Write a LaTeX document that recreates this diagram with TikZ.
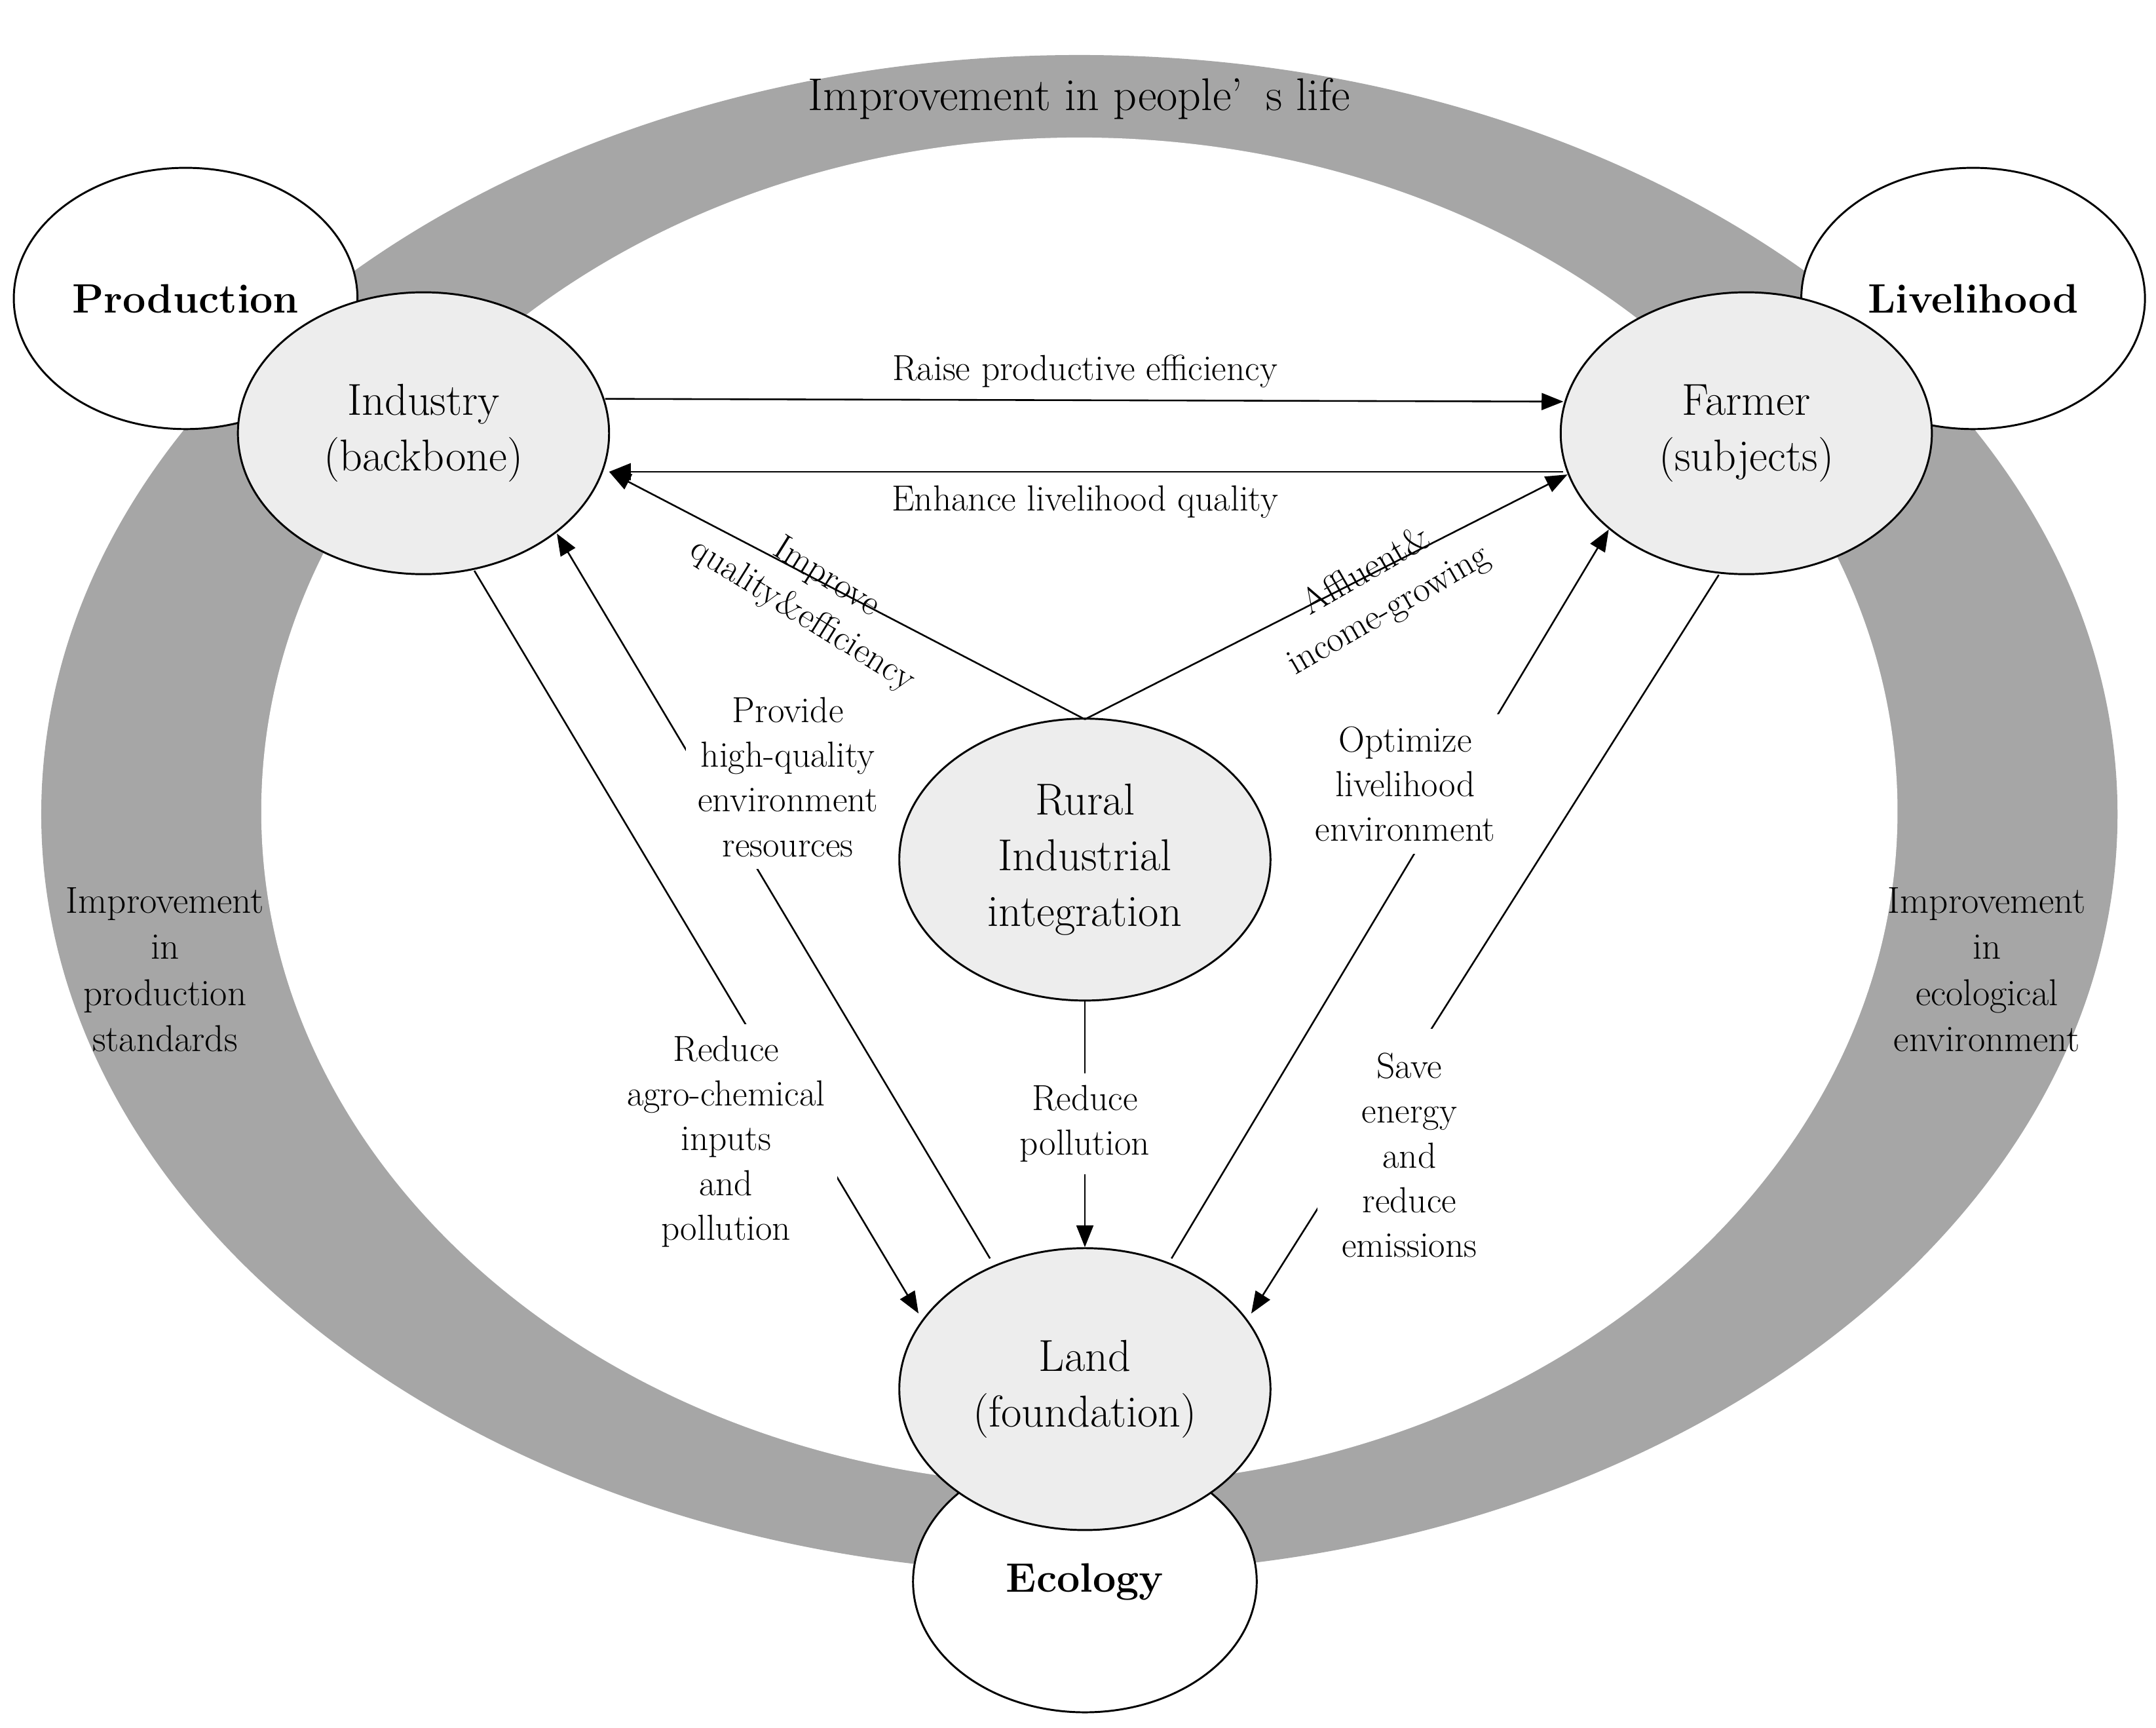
\documentclass[tikz,border=0pt]{standalone}
\usetikzlibrary{shapes.geometric,arrows.meta}
\begin{document}
\begin{tikzpicture}[x=0.02cm,y=-0.02cm,
  outerE/.style={ellipse,draw=black,line width=0.8pt,fill=white,minimum width=5cm,minimum height=3.8cm,inner sep=0pt,font=\fontsize{17}{20}\selectfont\bfseries,align=center},
  innerE/.style={ellipse,draw=black,line width=0.8pt,fill=black!7,minimum width=5.4cm,minimum height=4.1cm,inner sep=0pt,font=\fontsize{18.5}{23}\selectfont,align=center},
  lab/.style={font=\fontsize{15}{18.5}\selectfont,align=center},
  wlab/.style={lab,fill=white,inner sep=5pt},
  ring/.style={font=\fontsize{15.5}{19}\selectfont,align=center},
  arr/.style={-{Triangle[length=9pt,width=7pt]},line width=0.7pt}]
\useasboundingbox (0,0) rectangle (1568,1256);
\fill[black!35] (785,592) ellipse [x radius=755,y radius=552];
\fill[white] (785,590) ellipse [x radius=595,y radius=490];
\node[font=\fontsize{19}{23}\selectfont] (t) at (785,72) {Improvement in people’\,\,\,s life};
\node[ring] (rl) at (120,705) {Improvement\\in\\production\\standards};
\node[ring] (rr) at (1445,705) {Improvement\\in\\ecological\\environment};
\node[outerE] (prod) at (135,217) {Production};
\node[outerE] (live) at (1435,217) {Livelihood};
\node[outerE] (eco) at (789,1150) {Ecology};
\node[innerE] (ind) at (308,315) {Industry\\(backbone)};
\node[innerE] (far) at (1270,315) {Farmer\\(subjects)};
\node[innerE] (rur) at (789,625) {Rural\\Industrial\\integration};
\node[innerE] (land) at (789,1010) {Land\\(foundation)};
\coordinate (a1) at (440,290); \coordinate (a2) at (1137,292);
\draw[arr] (a1) -- (a2);
\node[lab] (l1) at (789,270) {Raise productive efficiency};
\coordinate (b1) at (1137,343); \coordinate (b2) at (443,343);
\draw[arr] (b1) -- (b2);
\node[lab] (l2) at (789,365) {Enhance livelihood quality};
\coordinate (r0) at (789,523);
\draw[arr] (r0) -- (b2);
\draw[arr] (r0) -- (1140,345);
\node[lab,rotate=-32] (l3) at (592,434) {Improve\\quality\&efficiency};
\node[lab,rotate=30] (l4) at (1002,430) {Affluent\&\\income-growing};
\draw[arr] (rur.south) -- (land.north);
\node[wlab] (l5) at (789,817) {Reduce\\pollution};
\draw[arr] (345,415) -- (668,955);
\draw[arr] (720,915) -- (405,388);
\draw[arr] (852,915) -- (1170,385);
\draw[arr] (1250,418) -- (910,955);
\node[wlab] (l6) at (528,830) {Reduce\\agro-chemical\\inputs\\and\\pollution};
\node[wlab] (l7) at (573,565) {Provide\\high-quality\\environment\\resources};
\node[wlab] (l8) at (1022,570) {Optimize\\livelihood\\environment};
\node[wlab,inner sep=10pt] (l9) at (1025,840) {Save\\energy\\and\\reduce\\emissions};
\end{tikzpicture}
\end{document}
